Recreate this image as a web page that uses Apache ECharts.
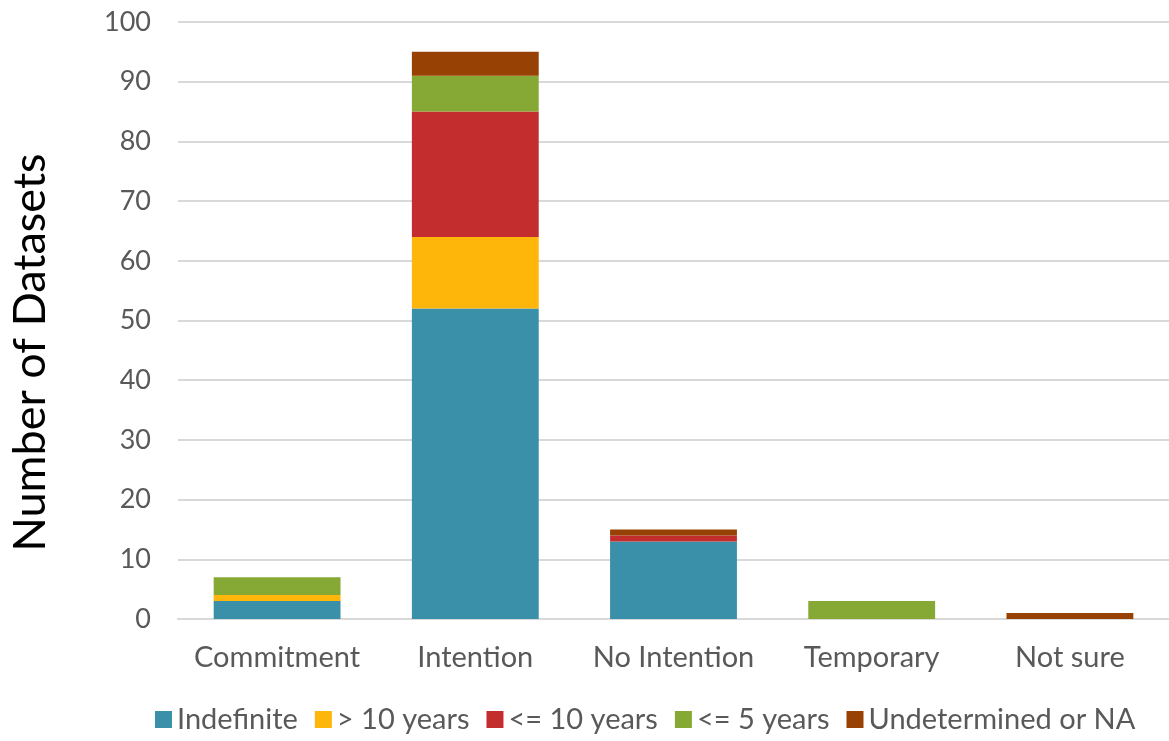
<!DOCTYPE html>
<html>
<head>
<meta charset="utf-8">
<script src="https://cdn.jsdelivr.net/npm/echarts@6/dist/echarts.min.js"></script>
<style>
  html, body { margin: 0; padding: 0; background: #fff; }
  #chart { width: 1169px; height: 741px; }
</style>
</head>
<body>
<div id="chart"></div>
<script>
// categories + stacked series
const categories = ["Commitment", "Intention", "No Intention", "Temporary", "Not sure"];
const indefinite = [3, 52, 13, 0, 0];
const over10 = [1, 12, 0, 0, 0];
const upTo10 = [0, 21, 1, 0, 0];
const upTo5 = [3, 6, 0, 3, 0];
const undetermined = [0, 4, 1, 0, 1];

const seriesDefs = [
  { name: "Indefinite", data: indefinite, color: "#3990a8" },
  { name: "> 10 years", data: over10, color: "#ffb60b" },
  { name: "<= 10 years", data: upTo10, color: "#c32d2e" },
  { name: "<= 5 years", data: upTo5, color: "#86a935" },
  { name: "Undetermined or NA", data: undetermined, color: "#984104" },
];

const font = "Lato, 'Open Sans', sans-serif";
const chart = echarts.init(document.getElementById("chart"));

const option = {
  animation: false,
  textStyle: { fontFamily: font },
  grid: { left: 177, right: -6, top: 22, bottom: 122 },
  legend: {
    bottom: 2,
    left: 150,
    itemWidth: 17,
    itemHeight: 17,
    itemGap: 17,
    icon: "rect",
    textStyle: { fontSize: 29, color: "#595959", fontFamily: font },
    data: seriesDefs.map(s => s.name),
  },
  xAxis: {
    type: "category",
    data: categories,
    axisTick: { show: false },
    axisLine: { lineStyle: { color: "#d9d9d9", width: 2 } },
    axisLabel: { fontSize: 29, color: "#595959", margin: 24, interval: 0 },
  },
  yAxis: {
    type: "value",
    min: 0,
    max: 100,
    interval: 10,
    name: "Number of Datasets",
    nameLocation: "middle",
    nameGap: 125,
    nameTextStyle: { fontSize: 45, color: "#000", padding: [0, 64, 0, 0] },
    axisLine: { show: false },
    axisTick: { show: false },
    axisLabel: { fontSize: 27, color: "#595959", margin: 27 },
    splitLine: { lineStyle: { color: "#d9d9d9", width: 2 } },
  },
  series: seriesDefs.map(s => ({
    name: s.name,
    type: "bar",
    stack: "total",
    barWidth: "64%",
    data: s.data,
    itemStyle: { color: s.color },
  })),
};

chart.setOption(option);
</script>
</body>
</html>
